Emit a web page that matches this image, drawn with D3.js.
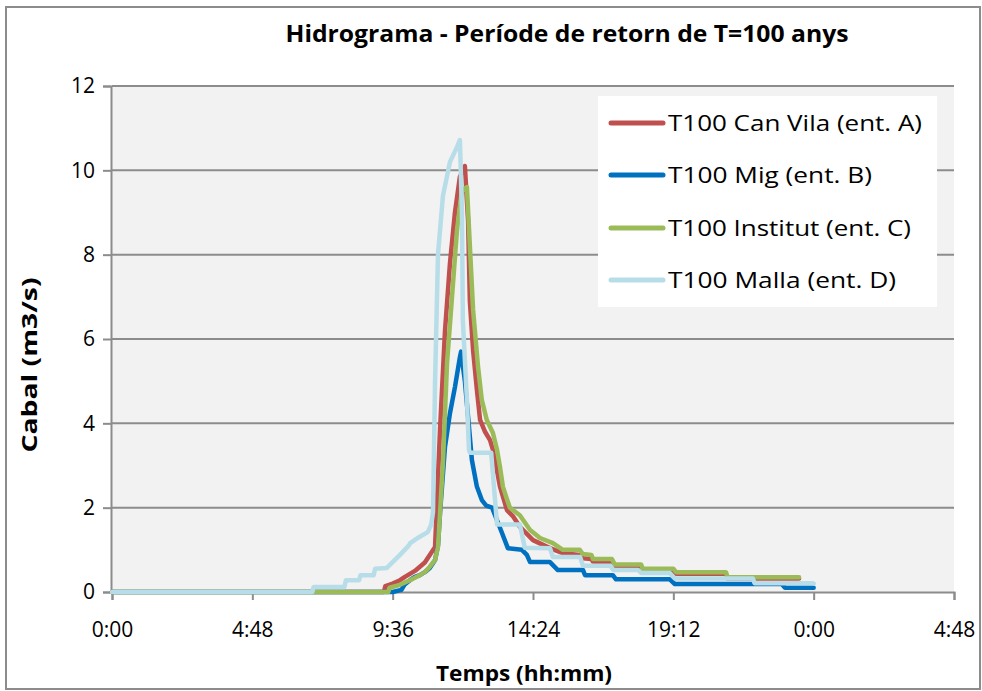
<!DOCTYPE html>
<html><head><meta charset="utf-8">
<script src="https://cdn.jsdelivr.net/npm/d3@7"></script>
<style>body{margin:0;background:#fff;} svg{display:block;}</style>
</head><body>
<svg id="chart" width="982" height="691"></svg>
<script>
// time in hours, flow in m3/s
const seriesNames = ["T100 Can Vila (ent. A)", "T100 Mig (ent. B)", "T100 Institut (ent. C)", "T100 Malla (ent. D)"];
const seriesColors = ["#C0504D", "#0070C0", "#9BBB59", "#B7DDE8"];
const yTicks = [0, 2, 4, 6, 8, 10, 12];
const xTicks = [0, 4.8, 9.6, 14.4, 19.2, 24, 28.8];
const xTickLabels = ["0:00", "4:48", "9:36", "14:24", "19:12", "0:00", "4:48"];

const canVila = [[0,0],[9.3,0],[9.35,0.14],[9.6,0.2],[9.85,0.28],[10.02,0.36],[10.19,0.43],[10.36,0.5],[10.53,0.6],[10.7,0.7],[10.87,0.88],[11.05,1.07],[11.22,3.85],[11.39,6.2],[11.56,7.8],[11.73,9.0],[11.9,9.85],[12.07,10.1],[12.18,8.8],[12.24,6.9],[12.35,5.74],[12.48,4.8],[12.59,4.08],[12.76,3.8],[12.93,3.6],[13.03,3.37],[13.1,3.13],[13.27,2.5],[13.51,1.94],[13.71,1.8],[13.95,1.55],[14.06,1.47],[14.4,1.23],[14.98,1.04],[15.42,0.92],[16.0,0.88],[16.1,0.8],[16.4,0.78],[16.45,0.72],[17.1,0.7],[17.2,0.6],[18.1,0.58],[18.15,0.5],[19.2,0.5],[19.3,0.43],[21.0,0.43],[21.05,0.32],[23.5,0.32]];
const mig = [[0,0],[9.6,0],[9.9,0.05],[10.0,0.17],[10.19,0.28],[10.36,0.36],[10.53,0.4],[10.7,0.47],[10.87,0.57],[11.05,0.76],[11.15,1.1],[11.22,1.87],[11.39,3.44],[11.56,4.24],[11.73,4.86],[11.9,5.57],[11.94,5.7],[12.07,5.0],[12.18,4.15],[12.31,3.13],[12.48,2.5],[12.65,2.18],[12.8,2.05],[13.0,2.0],[13.34,1.4],[13.54,1.04],[14.02,1.0],[14.19,0.88],[14.3,0.71],[14.98,0.71],[15.25,0.52],[16.11,0.52],[16.18,0.4],[17.13,0.4],[17.24,0.3],[19.08,0.3],[19.25,0.19],[22.91,0.19],[23.02,0.1],[24,0.1]];
const institut = [[0,0],[9.45,0],[9.5,0.1],[9.85,0.17],[10.19,0.28],[10.53,0.4],[10.7,0.47],[10.87,0.6],[11.05,0.76],[11.15,1.07],[11.32,3.06],[11.46,5.43],[11.63,7.0],[11.8,8.58],[11.97,9.53],[12.14,9.6],[12.35,6.7],[12.52,5.34],[12.65,4.55],[12.82,4.08],[13.03,3.77],[13.17,3.37],[13.27,2.97],[13.37,2.5],[13.51,2.2],[13.61,2.0],[13.95,1.82],[14.3,1.47],[14.64,1.28],[15.08,1.16],[15.42,1.0],[16.0,1.0],[16.1,0.9],[16.4,0.88],[16.45,0.78],[17.1,0.78],[17.2,0.65],[18.1,0.65],[18.15,0.55],[19.2,0.55],[19.3,0.47],[21.0,0.47],[21.05,0.35],[23.5,0.35]];
const malla = [[0,0],[6.85,0],[6.9,0.12],[7.95,0.12],[8.0,0.28],[8.45,0.28],[8.5,0.4],[8.95,0.4],[9.0,0.55],[9.4,0.57],[9.85,0.88],[10.15,1.1],[10.2,1.16],[10.5,1.3],[10.8,1.42],[10.92,1.6],[10.98,1.9],[11.05,5.0],[11.15,8.0],[11.32,9.4],[11.56,10.2],[11.8,10.55],[11.9,10.72],[11.97,9.0],[12.0,6.45],[12.14,4.55],[12.21,3.37],[12.25,3.3],[12.97,3.3],[13.17,1.6],[13.95,1.6],[14.12,1.05],[14.98,1.04],[15.08,0.83],[16.01,0.83],[16.11,0.62],[17.05,0.62],[17.15,0.52],[18.0,0.52],[18.1,0.45],[19.08,0.45],[19.25,0.32],[21.92,0.32],[21.98,0.21],[23.95,0.21],[24,0.2]];
const seriesData = [canVila, mig, institut, malla];

const svg = d3.select("#chart");
const m = {left: 112, right: 954, top: 86, bottom: 592};
const x = d3.scaleLinear().domain([0, 28.8]).range([m.left, m.right]);
const y = d3.scaleLinear().domain([0, 12]).range([m.bottom, m.top]);
const font = "'Open Sans', sans-serif";

// outer border
svg.append("rect").attr("x", 6).attr("y", 7).attr("width", 974).attr("height", 682)
  .attr("fill", "#fff").attr("stroke", "#8c8c8c").attr("stroke-width", 2);

// plot background
svg.append("rect").attr("x", m.left).attr("y", m.top).attr("width", m.right - m.left).attr("height", m.bottom - m.top)
  .attr("fill", "#f2f2f2");

// gridlines
svg.append("g").selectAll("line").data(yTicks.filter(d => d > 0)).join("line")
  .attr("x1", m.left).attr("x2", m.right).attr("y1", d => y(d)).attr("y2", d => y(d))
  .attr("stroke", "#8c8c8c").attr("stroke-width", 2);

// y axis
const yAxis = svg.append("g").attr("transform", `translate(${m.left - 1},0)`)
  .call(d3.axisLeft(y).tickValues(yTicks).tickSize(8).tickPadding(8).tickFormat(d3.format("d")));
yAxis.select(".domain").attr("stroke", "#8c8c8c").attr("stroke-width", 2);
yAxis.selectAll(".tick line").attr("stroke", "#8c8c8c").attr("stroke-width", 2);
yAxis.selectAll("text").attr("font-family", font).attr("font-size", 21).attr("fill", "#000");

// x axis
const xAxis = svg.append("g").attr("transform", `translate(0,${m.bottom})`)
  .call(d3.axisBottom(x).tickValues(xTicks).tickSize(8).tickPadding(22).tickFormat((d, i) => xTickLabels[i]));
xAxis.select(".domain").attr("stroke", "#8c8c8c").attr("stroke-width", 2);
xAxis.selectAll(".tick line").attr("stroke", "#8c8c8c").attr("stroke-width", 2);
xAxis.selectAll("text").attr("font-family", font).attr("font-size", 21).attr("fill", "#000");

// lines
const line = d3.line().x(d => x(d[0])).y(d => y(d[1]));
seriesData.forEach((s, i) => {
  svg.append("path").datum(s).attr("d", line).attr("fill", "none")
    .attr("stroke", seriesColors[i]).attr("stroke-width", 4.5)
    .attr("stroke-linejoin", "round").attr("stroke-linecap", "round");
});

// title
svg.append("text").attr("x", 567).attr("y", 42).attr("text-anchor", "middle")
  .attr("font-family", font).attr("font-weight", "bold").attr("font-size", 23)
  .attr("textLength", 563).attr("lengthAdjust", "spacingAndGlyphs")
  .text("Hidrograma - Període de retorn de T=100 anys");

// axis titles
svg.append("text").attr("x", 524).attr("y", 681).attr("text-anchor", "middle")
  .attr("font-family", font).attr("font-weight", "bold").attr("font-size", 21)
  .attr("textLength", 176).attr("lengthAdjust", "spacingAndGlyphs")
  .text("Temps (hh:mm)");
svg.append("text").attr("transform", "translate(37,365) rotate(-90)").attr("text-anchor", "middle")
  .attr("font-family", font).attr("font-weight", "bold").attr("font-size", 21)
  .attr("textLength", 175).attr("lengthAdjust", "spacingAndGlyphs")
  .text("Cabal (m3/s)");

// legend
const lg = svg.append("g");
lg.append("rect").attr("x", 598).attr("y", 96).attr("width", 339).attr("height", 211).attr("fill", "#fff");
const lgY = [123, 175, 228, 280];
const lgW = [254, 204, 243, 228];
seriesNames.forEach((n, i) => {
  lg.append("line").attr("x1", 611).attr("x2", 663).attr("y1", lgY[i]).attr("y2", lgY[i])
    .attr("stroke", seriesColors[i]).attr("stroke-width", 5).attr("stroke-linecap", "round");
  lg.append("text").attr("x", 668).attr("y", lgY[i] + 8).attr("font-family", font)
    .attr("font-size", 22).attr("fill", "#000")
    .attr("textLength", lgW[i]).attr("lengthAdjust", "spacingAndGlyphs").text(n);
});
</script>
</body></html>
